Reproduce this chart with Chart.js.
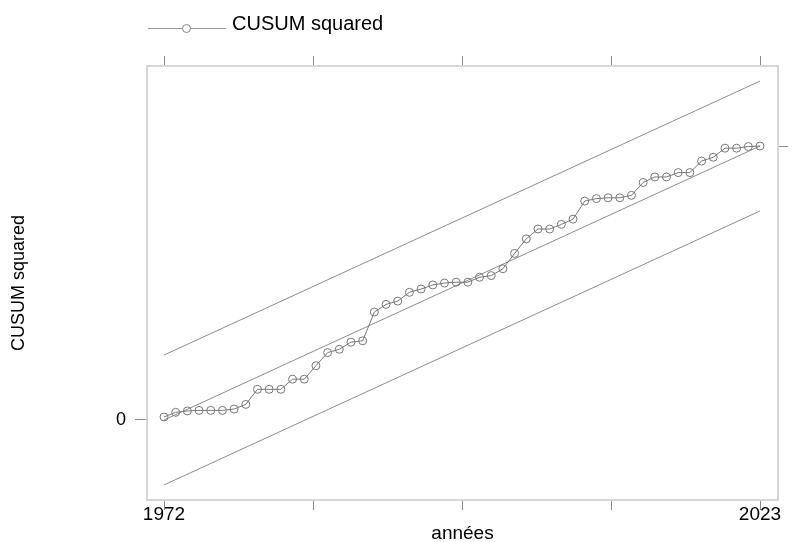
<!DOCTYPE html>
<html>
<head>
<meta charset="utf-8">
<script src="https://cdn.jsdelivr.net/npm/chart.js@4/dist/chart.umd.min.js"></script>
<style>
  body { margin: 0; background: #fff; }
  #wrap { position: relative; width: 800px; height: 542px; }
  #legend { position: absolute; left: 148px; top: 0; height: 50px; width: 300px; font-family: "Liberation Sans", Arial, sans-serif; }
  #legend .ln { position: absolute; left: 0; top: 28px; width: 78px; border-top: 1px solid #999; }
  #legend .pt { position: absolute; left: 34px; top: 24px; width: 7px; height: 7px; border: 1px solid #888; border-radius: 50%; background: #fff; }
  #legend .tx { position: absolute; left: 84px; top: 12px; font-size: 20px; line-height: 22px; color: #000; white-space: nowrap; }
</style>
</head>
<body>
<div id="wrap">
  <canvas id="cusum" width="800" height="542"></canvas>
  <div id="legend"><span class="ln"></span><span class="pt"></span><span class="tx">CUSUM squared</span></div>
</div>
<script>
const years = [];
for (let y = 1972; y <= 2023; y++) years.push(y);

// CUSUM of squares
const cusumSq = [0.011, 0.028, 0.033, 0.035, 0.035, 0.035, 0.040, 0.057, 0.112, 0.112,
  0.112, 0.149, 0.149, 0.198, 0.246, 0.258, 0.284, 0.289, 0.394, 0.422,
  0.434, 0.466, 0.478, 0.493, 0.500, 0.503, 0.503, 0.521, 0.527, 0.552,
  0.608, 0.661, 0.697, 0.697, 0.714, 0.733, 0.799, 0.808, 0.811, 0.811,
  0.820, 0.867, 0.887, 0.887, 0.903, 0.903, 0.945, 0.959, 0.992, 0.992,
  0.998, 1.000];

// straight reference lines (start / end)
const lineYears = [1972, 2023];
const upperBound = [0.237, 1.237];
const expected = [0, 1];
const lowerBound = [-0.237, 0.763];

const xTicks = [1972, 1984.75, 1997.5, 2010.25, 2023];
const xLabels = [1972, 2023];

const FONT = '"Liberation Sans", Arial, sans-serif';
const pts = (xs, ys) => xs.map((x, i) => ({ x: x, y: ys[i] }));
const refLine = (data) => ({ data: pts(lineYears, data), borderColor: '#8c8c8c', borderWidth: 1, pointRadius: 0 });

const xBase = {
  type: 'linear', min: 1970.545, max: 2024.54,
  afterBuildTicks: s => { s.ticks = xTicks.map(v => ({ value: v })); },
  grid: { drawOnChartArea: false, tickLength: 10, tickColor: '#8a8a8a' },
  border: { color: '#d6d6d6', width: 2 }
};

new Chart(document.getElementById('cusum'), {
  type: 'line',
  data: {
    datasets: [
      { label: 'CUSUM squared', data: pts(years, cusumSq), borderColor: '#777', borderWidth: 1,
        pointRadius: 4, pointBorderColor: '#777', pointBorderWidth: 1, pointBackgroundColor: 'rgba(0,0,0,0)' },
      refLine(upperBound),
      refLine(expected),
      refLine(lowerBound)
    ]
  },
  options: {
    responsive: false, animation: false,
    layout: { padding: 0 },
    plugins: { legend: { display: false }, tooltip: { enabled: false } },
    scales: {
      x: Object.assign({}, xBase, {
        position: 'bottom',
        afterFit: s => { s.height = 42; },
        ticks: { autoSkip: false, maxRotation: 0, padding: 0, color: '#000',
          font: { family: FONT, size: 19, lineHeight: 0.55 },
          callback: v => xLabels.includes(v) ? String(v) : '' },
        title: { display: true, text: 'années', color: '#000', padding: 0,
          font: { family: FONT, size: 19, lineHeight: 0.86 } }
      }),
      x2: Object.assign({}, xBase, {
        position: 'top',
        afterFit: s => { s.height = 66; },
        ticks: { display: false }
      }),
      y: {
        type: 'linear', position: 'left', min: -0.292, max: 1.292,
        afterBuildTicks: s => { s.ticks = [{ value: 0 }]; },
        afterFit: s => { s.width = 147; },
        grid: { drawOnChartArea: false, tickLength: 12, tickColor: '#8a8a8a' },
        border: { color: '#d6d6d6', width: 2 },
        ticks: { padding: 9, color: '#000', font: { family: FONT, size: 18 }, callback: v => String(v) },
        title: { display: true, text: 'CUSUM squared', color: '#000', padding: { top: 8, bottom: 0 },
          font: { family: FONT, size: 18 } }
      },
      y2: {
        type: 'linear', position: 'right', min: -0.292, max: 1.292,
        afterBuildTicks: s => { s.ticks = [{ value: 1 }]; },
        afterFit: s => { s.width = 22; },
        grid: { drawOnChartArea: false, tickLength: 10, tickColor: '#8a8a8a' },
        border: { color: '#d6d6d6', width: 2 },
        ticks: { padding: 11, color: '#000', font: { family: FONT, size: 18 }, callback: v => String(v) }
      }
    }
  }
});
</script>
</body>
</html>
